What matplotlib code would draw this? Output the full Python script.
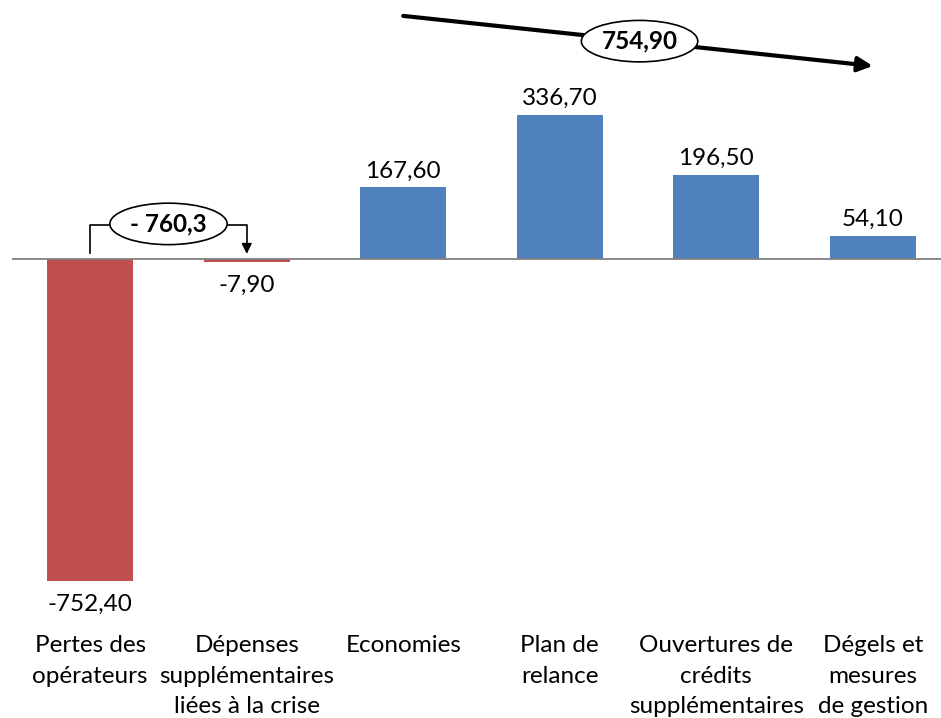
import matplotlib
matplotlib.use("Agg")
import matplotlib.pyplot as plt

# ---------------------------------------------------
# DATA
# ---------------------------------------------------
categories = [
    "Pertes des\nopérateurs",
    "Dépenses\nsupplémentaires\nliées à la crise",
    "Economies",
    "Plan de\nrelance",
    "Ouvertures de\ncrédits\nsupplémentaires",
    "Dégels et\nmesures\nde gestion",
]
values = [-752.40, -7.90, 167.60, 336.70, 196.50, 54.10]

loss_total_label = "- 760,3"
gain_total_label = "754,90"

RED = "#C0504D"
BLUE = "#4F81BD"


def fr(v):
    return f"{v:.2f}".replace(".", ",")


plt.rcParams["font.family"] = ["Lato", "DejaVu Sans"]
FS = 17.5

fig = plt.figure(figsize=(9.41, 7.18), dpi=100)
W, H = 941, 718
# axes in pixel terms: x from 12 to 951, y from 0 to 600
ax = fig.add_axes([12 / W, 118 / H, 939 / W, 600 / H])

scale = 0.428  # px per unit
ax.set_xlim(-0.5, 5.5)
ax.set_ylim(-(600 - 259) / scale, 259 / scale)

colors = [RED if v < 0 else BLUE for v in values]
ax.bar(range(len(values)), values, width=0.55, color=colors, zorder=2)
ax.axhline(0, color="#808080", lw=1.3, zorder=3)

for i, v in enumerate(values):
    if v >= 0:
        ax.annotate(fr(v), (i, v), xytext=(0, 4), textcoords="offset points",
                    ha="center", va="bottom", fontsize=FS)
    else:
        ax.annotate(fr(v), (i, v), xytext=(0, -9), textcoords="offset points",
                    ha="center", va="top", fontsize=FS)

ax.set_xticks(range(len(categories)))
ax.set_xticklabels(categories, fontsize=FS, linespacing=1.58)
ax.tick_params(axis="x", length=0, pad=25)
ax.set_yticks([])
for s in ax.spines.values():
    s.set_visible(False)

# bracket for losses
ax.plot([0, 0, 0.5], [14, 79, 79], color="black", lw=1.2, zorder=4)
ax.annotate("", xy=(1.0, 12), xytext=(0.5, 79),
            arrowprops=dict(arrowstyle="-|>", color="black", lw=1.2,
                            mutation_scale=15, connectionstyle="angle,angleA=0,angleB=90,rad=0",
                            shrinkA=0, shrinkB=0))
ax.text(0.5, 82, loss_total_label, ha="center", va="center", fontsize=FS,
        fontweight="bold", zorder=5,
        bbox=dict(boxstyle="ellipse,pad=0.13", fc="white", ec="black", lw=1.2))

# arrow for gains
ax.annotate("", xy=(5.0, 451), xytext=(2.0, 568),
            arrowprops=dict(arrowstyle="-|>", color="black", lw=3,
                            mutation_scale=22, shrinkA=0, shrinkB=0),
            annotation_clip=False)
ax.text(3.51, 509, gain_total_label, ha="center", va="center", fontsize=FS,
        fontweight="bold", zorder=5,
        bbox=dict(boxstyle="ellipse,pad=0.13", fc="white", ec="black", lw=1.2))

fig.savefig("out.png", dpi=100)
